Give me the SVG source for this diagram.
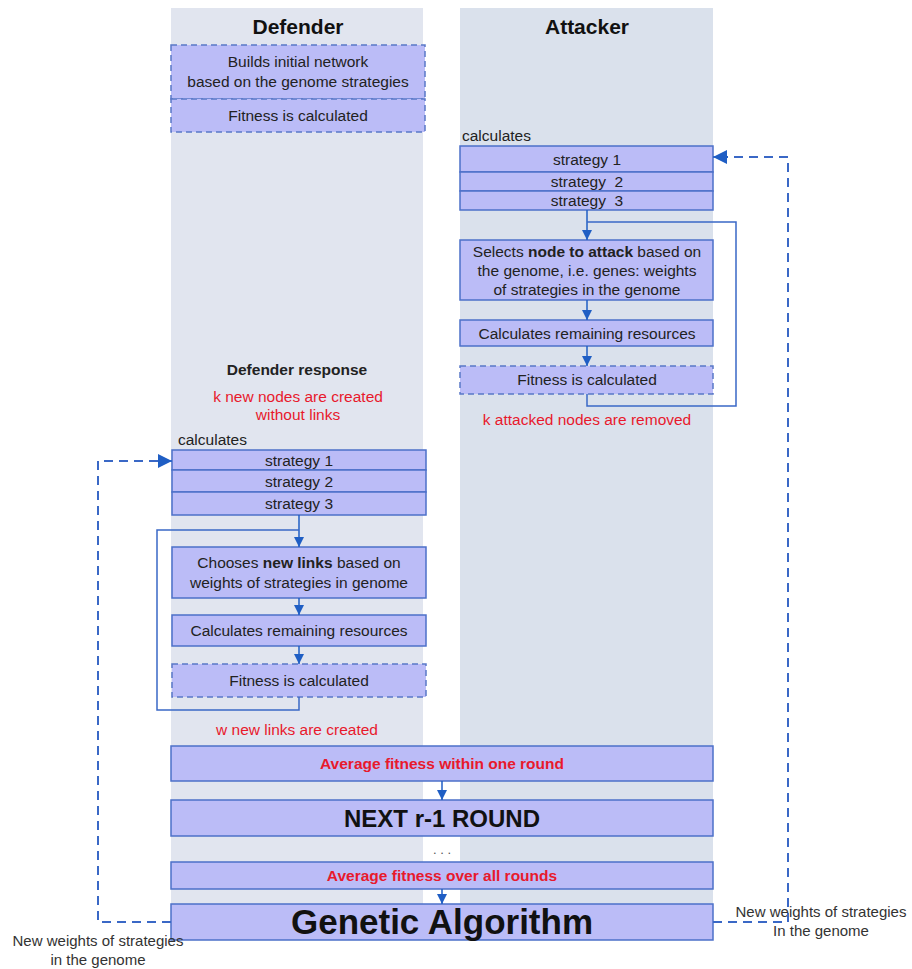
<svg xmlns="http://www.w3.org/2000/svg" width="912" height="969" viewBox="0 0 912 969">
<defs>
<marker id="ah" viewBox="0 0 10 10" refX="10" refY="5" markerWidth="10" markerHeight="10" markerUnits="userSpaceOnUse" orient="auto">
<path d="M0,0 L10,5 L0,10 z" fill="#1f5ec4"/>
</marker>
<marker id="ahl" viewBox="0 0 10 10" refX="10" refY="5" markerWidth="14" markerHeight="14" markerUnits="userSpaceOnUse" orient="auto">
<path d="M0,0 L10,5 L0,10 z" fill="#1f5ec4"/>
</marker>
</defs>
<style>
text{font-family:"Liberation Sans",Arial,sans-serif;fill:#222;text-anchor:middle}
.box{fill:#bbbcf7;stroke:#4c70c9;stroke-width:1.5}
.dbox{fill:#bbbcf7;stroke:#5a78c8;stroke-width:1.5;stroke-dasharray:6,4}
.t{font-size:15.5px}
.red{fill:#e8192c;font-size:15.5px}
.redb{fill:#e8192c;font-size:15.5px;font-weight:bold}
.b{font-weight:bold}
.arr{stroke:#1f5ec4;stroke-width:1.5;fill:none;marker-end:url(#ah)}
.loop{stroke:#3a68c6;stroke-width:1.5;fill:none}
.dash{stroke:#3a68c6;stroke-width:2;fill:none;stroke-dasharray:9,6}
.col1{fill:#e1e5ef}
.col2{fill:#dae1ec}
.lbl{font-size:15px;fill:#333}
.pre{white-space:pre}
</style>
<rect width="912" height="969" fill="#fff"/>
<g id="columns">
<rect class="col1" x="171" y="8" width="252" height="932"/>
<rect class="col2" x="460" y="8" width="253" height="932"/>
<text x="298" y="34" style="font-size:21px;font-weight:bold;fill:#111">Defender</text>
<text x="587" y="34" style="font-size:21px;font-weight:bold;fill:#111">Attacker</text>
</g>
<g id="def-init">
<rect class="dbox" x="171" y="45" width="254" height="54"/>
<text class="t" x="298" y="67">Builds initial network</text>
<text class="t" x="298" y="87">based on the genome strategies</text>
</g>
<g id="def-fit0">
<rect class="dbox" x="171" y="99" width="254" height="33"/>
<text class="t" x="298" y="121">Fitness is calculated</text>
</g>
<g id="att-strat">
<text class="t" x="462" y="141" style="text-anchor:start">calculates</text>
<rect class="box" x="460" y="146" width="253" height="26"/>
<text class="t" x="587" y="165">strategy 1</text>
<rect class="box" x="460" y="172" width="253" height="19"/>
<text class="t pre" x="587" y="187" xml:space="preserve">strategy  2</text>
<rect class="box" x="460" y="191" width="253" height="19"/>
<text class="t pre" x="587" y="206" xml:space="preserve">strategy  3</text>
</g>
<g id="att-select">
<rect class="box" x="460" y="240" width="253" height="60"/>
<text class="t" x="587" y="257">Selects <tspan class="b">node to attack</tspan> based on</text>
<text class="t" x="587" y="276">the genome, i.e. genes: weights</text>
<text class="t" x="587" y="295">of strategies in the genome</text>
</g>
<g id="att-res">
<rect class="box" x="460" y="320" width="253" height="26"/>
<text class="t" x="587" y="339">Calculates remaining resources</text>
</g>
<g id="att-fit">
<rect class="dbox" x="460" y="366" width="253" height="28"/>
<text class="t" x="587" y="385">Fitness is calculated</text>
</g>
<text class="red" x="587" y="425">k attacked nodes are removed</text>
<g id="def-response">
<text class="t b" x="297" y="375">Defender response</text>
<text class="red" x="298" y="402">k new nodes are created</text>
<text class="red" x="298" y="420">without links</text>
</g>
<g id="def-strat">
<text class="t" x="178" y="445" style="text-anchor:start">calculates</text>
<rect class="box" x="172" y="450" width="254" height="20"/>
<text class="t" x="299" y="466">strategy 1</text>
<rect class="box" x="172" y="470" width="254" height="22"/>
<text class="t" x="299" y="487">strategy 2</text>
<rect class="box" x="172" y="492" width="254" height="23"/>
<text class="t" x="299" y="509">strategy 3</text>
</g>
<g id="def-choose">
<rect class="box" x="172" y="547" width="254" height="51"/>
<text class="t" x="299" y="568">Chooses <tspan class="b">new links</tspan> based on</text>
<text class="t" x="299" y="588">weights of strategies in genome</text>
</g>
<g id="def-res">
<rect class="box" x="172" y="615" width="254" height="31"/>
<text class="t" x="299" y="636">Calculates remaining resources</text>
</g>
<g id="def-fit">
<rect class="dbox" x="172" y="664" width="254" height="33"/>
<text class="t" x="299" y="686">Fitness is calculated</text>
</g>
<text class="red" x="297" y="735">w new links are created</text>
<g id="avg-round">
<rect class="box" x="171" y="746" width="542" height="35"/>
<text class="redb" x="442" y="769">Average fitness within one round</text>
</g>
<g id="next-round">
<rect class="box" x="171" y="800" width="542" height="36"/>
<text x="442" y="827" style="font-size:24px;font-weight:bold;fill:#111">NEXT r-1 ROUND</text>
</g>
<text x="442" y="854" style="font-size:13px;fill:#555">. . .</text>
<g id="avg-all">
<rect class="box" x="171" y="862" width="542" height="27"/>
<text class="redb" x="442" y="881">Average fitness over all rounds</text>
</g>
<g id="ga">
<rect class="box" x="171" y="904" width="542" height="36"/>
<text x="442" y="934" style="font-size:35px;font-weight:bold;fill:#111">Genetic Algorithm</text>
</g>
<g id="labels">
<text class="lbl" x="98" y="946">New weights of strategies</text>
<text class="lbl" x="98" y="965">in the genome</text>
<text class="lbl" x="821" y="917">New weights of strategies</text>
<text class="lbl" x="821" y="936">In the genome</text>
</g>
<g id="connectors">
<path class="arr" d="M587,210 V240"/>
<path class="arr" d="M587,300 V320"/>
<path class="arr" d="M587,346 V366"/>
<path class="loop" d="M587,222 H736 V406 H587 V394"/>
<path class="arr" d="M299,515 V547"/>
<path class="arr" d="M299,598 V615"/>
<path class="arr" d="M299,646 V664"/>
<path class="loop" d="M299,530 H157 V710 H299 V697"/>
<path class="arr" d="M442,781 V800"/>
<path class="arr" d="M442,889 V904"/>
<path class="dash" d="M171,922 H98 V461 H160"/>
<path class="arr" d="M158,461 H172" style="marker-end:url(#ahl)"/>
<path class="dash" d="M713,922 H788 V157 H726"/>
<path class="arr" d="M728,157 H713" style="marker-end:url(#ahl)"/>
</g>
</svg>
